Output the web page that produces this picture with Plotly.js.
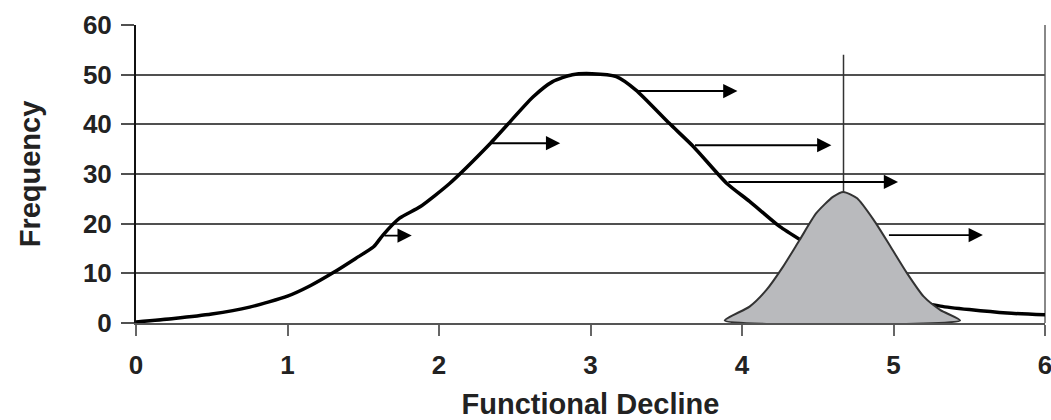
<!DOCTYPE html>
<html>
<head>
<meta charset="utf-8">
<script src="https://cdn.plot.ly/plotly-3.0.1.min.js"></script>
<style>
  html, body { margin: 0; padding: 0; background: #fff; }
  #chart { width: 1051px; height: 420px; }
</style>
</head>
<body>
<div id="chart"></div>
<script>
// Main frequency curve (population)
const curveX = [0, 0.25, 0.5, 0.75, 1.0, 1.15, 1.3, 1.45, 1.57, 1.63, 1.74, 1.875, 2.07, 2.34, 2.62, 2.75, 2.88, 3.01, 3.17, 3.30, 3.52, 3.68, 3.90, 4.05, 4.25, 4.45, 4.65, 4.85, 5.05, 5.31, 5.5, 5.75, 6.0];
const curveY = [0.2, 0.9, 1.8, 3.2, 5.4, 7.5, 10.1, 13.0, 15.4, 17.7, 21.1, 23.4, 28.1, 36.2, 45.5, 48.6, 50.0, 50.2, 49.6, 46.9, 40.2, 35.5, 28.1, 24.5, 19.4, 15.5, 11.5, 8.0, 5.2, 3.4, 2.7, 2.0, 1.65];

// Shaded distribution (gray bell)
const bellX = [3.886, 4.05, 4.16, 4.27, 4.38, 4.49, 4.60, 4.67, 4.76, 4.87, 4.98, 5.09, 5.20, 5.31, 5.44, 3.886];
const bellY = [0.5, 3.3, 6.6, 11.3, 16.7, 22.1, 25.4, 26.4, 25.1, 20.7, 15.4, 10.0, 5.3, 2.6, 0.5, 0.5];

// Vertical threshold line
const markerX = [4.67, 4.67];
const markerY = [0, 54];

// Arrows (tail where visible, head to the right)
const arrowTailX = [1.63, 2.34, 3.30, 3.68, 3.90, 4.96];
const arrowHeadX = [1.82, 2.80, 3.97, 4.59, 5.03, 5.59];
const arrowY = [17.6, 36.2, 46.7, 35.8, 28.4, 17.7];

// Axis ticks
const xTicks = [0, 1, 2, 3, 4, 5, 6];
const yTicks = [0, 10, 20, 30, 40, 50, 60];

const FONT = 'Liberation Sans, Arial, Helvetica, sans-serif';

const traces = [
  {
    x: curveX, y: curveY, type: 'scatter', mode: 'lines',
    line: { color: '#000', width: 3.5, shape: 'spline', smoothing: 0.6 },
    hoverinfo: 'skip', showlegend: false
  },
  {
    x: markerX, y: markerY, type: 'scatter', mode: 'lines',
    line: { color: '#333', width: 1.5 },
    hoverinfo: 'skip', showlegend: false
  },
  {
    x: bellX, y: bellY, type: 'scatter', mode: 'lines',
    fill: 'toself', fillcolor: '#b9babd',
    line: { color: '#333', width: 2, shape: 'spline', smoothing: 0.6 },
    hoverinfo: 'skip', showlegend: false
  }
];

const annotations = arrowHeadX.map((hx, i) => ({
  x: hx, y: arrowY[i], xref: 'x', yref: 'y',
  ax: arrowTailX[i], ay: arrowY[i], axref: 'x', ayref: 'y',
  text: '', showarrow: true,
  arrowhead: 2, arrowsize: 1.5, arrowwidth: 1.9, arrowcolor: '#000'
}));

const layout = {
  width: 1051, height: 420,
  margin: { l: 136, r: 6, t: 25, b: 97 },
  paper_bgcolor: '#fff', plot_bgcolor: '#fff',
  font: { family: FONT, color: '#222' },
  xaxis: {
    range: [0, 6], tickvals: xTicks, ticktext: xTicks.map(String),
    showgrid: false, zeroline: false,
    showline: true, linecolor: '#555', linewidth: 2,
    ticks: 'outside', ticklen: 11, tickwidth: 2, tickcolor: '#666',
    ticklabelstandoff: 7, ticklabeloverflow: 'allow',
    tickfont: { family: FONT, size: 26, color: '#222', weight: 'bold' },
    title: { text: 'Functional Decline', standoff: 24,
             font: { family: FONT, size: 29, color: '#222', weight: 'bold' } },
    fixedrange: true
  },
  yaxis: {
    range: [0, 60], tickvals: yTicks, ticktext: yTicks.map(String),
    showgrid: true, gridcolor: '#505050', gridwidth: 2,
    zeroline: false,
    showline: true, linecolor: '#111', linewidth: 2,
    ticks: 'outside', ticklen: 13, tickwidth: 2, tickcolor: '#505050',
    ticklabelstandoff: 4,
    tickfont: { family: FONT, size: 26, color: '#222', weight: 'bold' },
    title: { text: 'Frequency', standoff: 34,
             font: { family: FONT, size: 29, color: '#222', weight: 'bold' } },
    fixedrange: true
  },
  shapes: [
    { type: 'line', xref: 'paper', yref: 'paper', x0: 1, x1: 1, y0: 0, y1: 1,
      line: { color: '#888', width: 2 }, layer: 'below' }
  ],
  annotations: annotations,
  showlegend: false
};

Plotly.newPlot('chart', traces, layout, { displayModeBar: false, staticPlot: true });
</script>
</body>
</html>
